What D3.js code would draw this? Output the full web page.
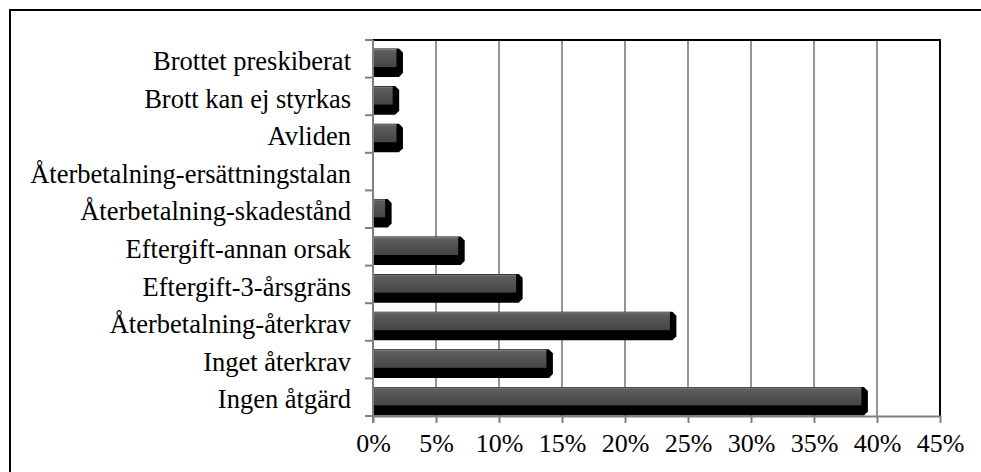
<!DOCTYPE html>
<html>
<head>
<meta charset="utf-8">
<script src="https://cdn.jsdelivr.net/npm/d3@7"></script>
<style>
	body { margin: 0; background: #fff; }
	svg text { font-family: "Liberation Serif", "Times New Roman", serif; fill: #000; }
</style>
</head>
<body>
<div id="chart"></div>
<script>
	"use strict";

	// categories top to bottom
	var categories = [
		"Brottet preskiberat",
		"Brott kan ej styrkas",
		"Avliden",
		"Återbetalning-ersättningstalan",
		"Återbetalning-skadestånd",
		"Eftergift-annan orsak",
		"Eftergift-3-årsgräns",
		"Återbetalning-återkrav",
		"Inget återkrav",
		"Ingen åtgärd"
	];
	var shares = [0.021, 0.018, 0.021, 0, 0.012, 0.070, 0.116, 0.238, 0.140, 0.390];
	var tickValues = [0, 0.05, 0.10, 0.15, 0.20, 0.25, 0.30, 0.35, 0.40, 0.45];

	var width = 981, height = 472;
	var plotL = 373, plotR = 940, plotT = 40, plotB = 416;

	var svg = d3.select("#chart")
		.append("svg")
		.attr("width", width)
		.attr("height", height);

	// outer frame (right and bottom edges fall outside the picture)
	svg.append("rect")
		.attr("x", 10).attr("y", 10)
		.attr("width", 990).attr("height", 500)
		.attr("fill", "none")
		.attr("stroke", "#000")
		.attr("stroke-width", 2);

	var x = d3.scaleLinear().domain([0, 0.45]).range([plotL, plotR]);
	var y = d3.scaleBand().domain(categories).range([plotT, plotB]).padding(0);

	var defs = svg.append("defs");
	var grad = defs.append("linearGradient")
		.attr("id", "face")
		.attr("x1", 0).attr("y1", 0).attr("x2", 0).attr("y2", 1);
	grad.append("stop").attr("offset", "0%").attr("stop-color", "#8a8a8a");
	grad.append("stop").attr("offset", "10%").attr("stop-color", "#5e5e5e");
	grad.append("stop").attr("offset", "100%").attr("stop-color", "#454545");

	// gridlines
	svg.append("g")
		.selectAll("line")
		.data(tickValues.slice(1, -1))
		.enter()
		.append("line")
		.attr("x1", function(d) { return x(d); })
		.attr("x2", function(d) { return x(d); })
		.attr("y1", plotT)
		.attr("y2", plotB)
		.attr("stroke", "#959595")
		.attr("stroke-width", 2);

	// plot border top + right
	svg.append("path")
		.attr("d", "M" + plotL + "," + plotT + "H" + plotR + "V" + plotB)
		.attr("fill", "none")
		.attr("stroke", "#000")
		.attr("stroke-width", 2);

	// bars
	var bh = y.bandwidth();
	var bars = svg.append("g")
		.selectAll("g")
		.data(categories.map(function(c, i) { return { cat: c, v: shares[i] }; }).filter(function(d) { return d.v > 0; }))
		.enter()
		.append("g");

	bars.append("path")
		.attr("fill", "#000")
		.attr("d", function(d) {
			var x0 = plotL + 1, x1 = x(d.v) + 3.5;
			var y0 = y(d.cat) + 8.5, y1 = y(d.cat) + bh - 0.5;
			var r = 4;
			return "M" + x0 + "," + y0 + "H" + (x1 - r) + "L" + x1 + "," + (y0 + r) +
				"V" + (y1 - r) + "L" + (x1 - r) + "," + y1 + "H" + x0 + "Z";
		});

	bars.append("rect")
		.attr("x", plotL + 1)
		.attr("y", function(d) { return y(d.cat) + 9; })
		.attr("width", function(d) { return Math.max(0, x(d.v) - 3 - plotL - 1); })
		.attr("height", 18)
		.attr("fill", "url(#face)");

	// y axis
	var yAxis = svg.append("g")
		.attr("transform", "translate(" + plotL + ",0)");
	yAxis.append("line")
		.attr("x1", 0).attr("x2", 0)
		.attr("y1", plotT).attr("y2", plotB + 7)
		.attr("stroke", "#808080")
		.attr("stroke-width", 2);
	yAxis.selectAll(".tk")
		.data(categories.concat(["_end"]))
		.enter()
		.append("line")
		.attr("x1", -8).attr("x2", 0)
		.attr("y1", function(d) { return d === "_end" ? plotB : y(d); })
		.attr("y2", function(d) { return d === "_end" ? plotB : y(d); })
		.attr("stroke", "#808080")
		.attr("stroke-width", 2);
	yAxis.selectAll("text")
		.data(categories)
		.enter()
		.append("text")
		.attr("x", -22)
		.attr("y", function(d) { return y(d) + bh / 2 + 2; })
		.attr("dy", "0.35em")
		.attr("text-anchor", "end")
		.style("font-size", "26.5px")
		.text(function(d) { return d; });

	// x axis
	var xAxis = svg.append("g")
		.attr("transform", "translate(0," + plotB + ")")
		.call(d3.axisBottom(x)
			.tickValues(tickValues)
			.tickFormat(d3.format(".0%"))
			.tickSize(7)
			.tickSizeOuter(0)
			.tickPadding(11));
	xAxis.select(".domain").attr("stroke", "#808080").attr("stroke-width", 2);
	xAxis.selectAll(".tick line").attr("stroke", "#808080").attr("stroke-width", 2);
	xAxis.selectAll(".tick text")
		.style("font-size", "26px")
		.style("font-family", "'Liberation Serif', 'Times New Roman', serif")
		.attr("fill", "#000");
</script>
</body>
</html>
